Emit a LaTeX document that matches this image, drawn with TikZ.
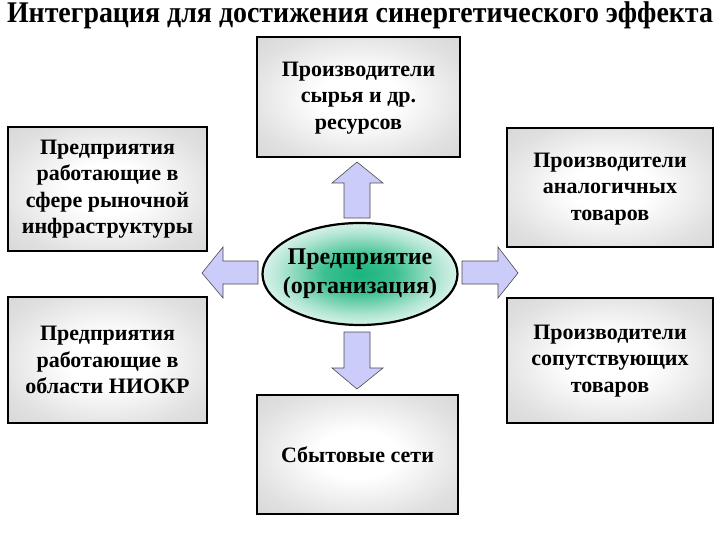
\documentclass[tikz,border=0pt]{standalone}
\usepackage{fontspec}
\setmainfont{Liberation Serif}
\usetikzlibrary{shapes.geometric}
\definecolor{arrowfill}{RGB}{204,204,250}
\definecolor{boxgray}{RGB}{216,216,216}
\definecolor{ellgreen}{RGB}{25,180,125}
\pgfdeclareradialshading{orgshade}{\pgfpoint{0bp}{0bp}}{%
  color(0bp)=(ellgreen); color(9bp)=(ellgreen!85!white); color(20bp)=(ellgreen!35!white); color(30bp)=(white); color(50bp)=(white)}
\pgfdeclareradialshading{boxshade}{\pgfpoint{0bp}{0bp}}{%
  color(0bp)=(white); color(10bp)=(white); color(28bp)=(boxgray!80!white); color(36bp)=(boxgray); color(50bp)=(boxgray)}
\tikzset{
  box/.style={draw=black, line width=2.2pt, shading=boxshade},
  boxtext/.style={align=center, font=\fontsize{22}{26.5}\selectfont\bfseries, inner sep=0pt},
  blockarrow/.style={draw=black!70, line width=0.6pt, fill=arrowfill, line join=miter},
  org/.style={ellipse, draw=black, line width=2.2pt, shading=orgshade,
    minimum width=195pt, minimum height=102pt, inner sep=0pt},
  orgtext/.style={align=center, font=\fontsize{24}{29}\selectfont\bfseries, inner sep=0pt},
}
\begin{document}
\begin{tikzpicture}[x=1pt,y=-1pt]
\useasboundingbox (0,0) rectangle (720,540);
\node[font=\fontsize{30}{30}\selectfont\bfseries, inner sep=0pt] (title) at (360,15) {\scalebox{0.93}[1]{Интеграция для достижения синергетического эффекта}};
% boxes
\path[box] (257,37) rectangle (460,157);
\node[boxtext] (top) at (358.5,98) {Производители\\сырья и др.\\ресурсов};
\path[box] (8,127) rectangle (207,251);
\node[boxtext] (lt) at (107.5,189) {Предприятия\\работающие в\\сфере рыночной\\инфраструктуры};
\path[box] (8,297) rectangle (207,423);
\node[boxtext] (lb) at (107.5,360) {Предприятия\\работающие в\\области НИОКР};
\path[box] (507,128) rectangle (713,247);
\node[boxtext] (rt) at (610,189) {Производители\\аналогичных\\товаров};
\path[box] (507,298) rectangle (713,423);
\node[boxtext] (rb) at (610,361) {Производители\\сопутствующих\\товаров};
\path[box] (257,395) rectangle (458,514);
\node[boxtext] (bot) at (357.5,455) {Сбытовые сети};
% centre
\node[org] (org) at (360,274) {};
\node[orgtext] (orgtxt) at (org.center) {Предприятие\\(организация)};
% block arrows
\draw[blockarrow] (344,218) -- (344,183) -- (332,183) -- (357,162) -- (383,183) -- (370,183) -- (370,218) -- cycle;
\draw[blockarrow] (344,332) -- (344,368) -- (332,368) -- (357,389) -- (383,368) -- (370,368) -- (370,332) -- cycle;
\draw[blockarrow] (258,261) -- (223,261) -- (223,247) -- (202,273) -- (223,298) -- (223,284) -- (258,284) -- cycle;
\draw[blockarrow] (462,261) -- (498,261) -- (498,247) -- (518,273) -- (498,298) -- (498,284) -- (462,284) -- cycle;
\end{tikzpicture}
\end{document}
